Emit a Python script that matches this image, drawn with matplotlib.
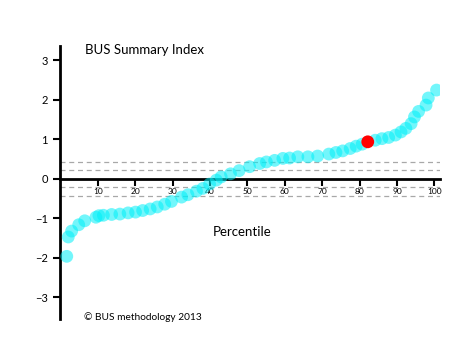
import matplotlib.pyplot as plt

# percentile positions and index values
pct = [1.7, 2.1, 3.0, 4.9, 6.5, 9.5, 10.3, 11.5, 13.7, 15.9, 18.1, 20.1, 22.0,
       24.0, 25.9, 27.9, 29.7, 32.4, 34.1, 36.4, 38.1, 39.9, 41.7, 43.0, 45.5,
       47.8, 50.6, 53.3, 55.1, 57.3, 59.5, 61.3, 63.5, 66.2, 68.8, 71.8, 73.7,
       75.5, 77.5, 79.1, 80.7, 84.2, 86.0, 87.8, 89.6, 91.1, 92.4, 93.8, 94.7,
       95.8, 97.8, 98.4, 100.6]
index = [-1.97, -1.48, -1.33, -1.17, -1.07, -0.98, -0.94, -0.93, -0.91, -0.90,
         -0.87, -0.85, -0.81, -0.77, -0.72, -0.65, -0.58, -0.47, -0.41, -0.32,
         -0.25, -0.14, -0.04, 0.04, 0.12, 0.20, 0.30, 0.38, 0.42, 0.46, 0.51,
         0.52, 0.55, 0.55, 0.57, 0.62, 0.66, 0.70, 0.76, 0.82, 0.87, 0.97, 1.01,
         1.04, 1.10, 1.18, 1.27, 1.39, 1.56, 1.70, 1.86, 2.04, 2.24]
highlight_pct = [82.2]
highlight_index = [0.93]

band_levels = [0.43, 0.21, -0.21, -0.43]
xticks = [10, 20, 30, 40, 50, 60, 70, 80, 90, 100]
yticks = [-3, -2, -1, 0, 1, 2, 3]

plt.rcParams['font.family'] = ['Lato', 'DejaVu Sans']

fig = plt.figure(figsize=(4.72, 3.61), dpi=100)
ax = fig.add_axes([0.128, 0.116, 0.804, 0.757])

for lvl in band_levels:
    ax.axhline(lvl, color='#a8a8a8', lw=0.9, ls=(0, (4, 3)), zorder=1)

ax.scatter(pct, index, s=85, color='#00f0f8', alpha=0.55, edgecolors='none', zorder=3)
ax.scatter(highlight_pct, highlight_index, s=85, color='#ff0000', edgecolors='none', zorder=4)

ax.set_xlim(0, 101.5)
ax.set_ylim(-3.56, 3.36)

ax.spines['top'].set_visible(False)
ax.spines['right'].set_visible(False)
ax.spines['bottom'].set_position(('data', 0))
ax.spines['left'].set_linewidth(2)
ax.spines['bottom'].set_linewidth(2)

ax.set_xticks(xticks)
ax.set_yticks(yticks)
ax.tick_params(axis='x', direction='out', length=5, width=1.5, labelsize=6, pad=2)
ax.tick_params(axis='y', direction='out', length=5, width=1.5, labelsize=8, pad=4)

fig.text(85 / 472, 1 - 50 / 361, 'BUS Summary Index', fontsize=9.5, va='center', ha='left')
fig.text(213 / 472, 1 - 232 / 361, 'Percentile', fontsize=9.5, va='center', ha='left')
fig.text(84 / 472, 1 - 317 / 361, '\u00a9 BUS methodology 2013', fontsize=7.3, va='center', ha='left')

fig.savefig('out.png', dpi=100)
